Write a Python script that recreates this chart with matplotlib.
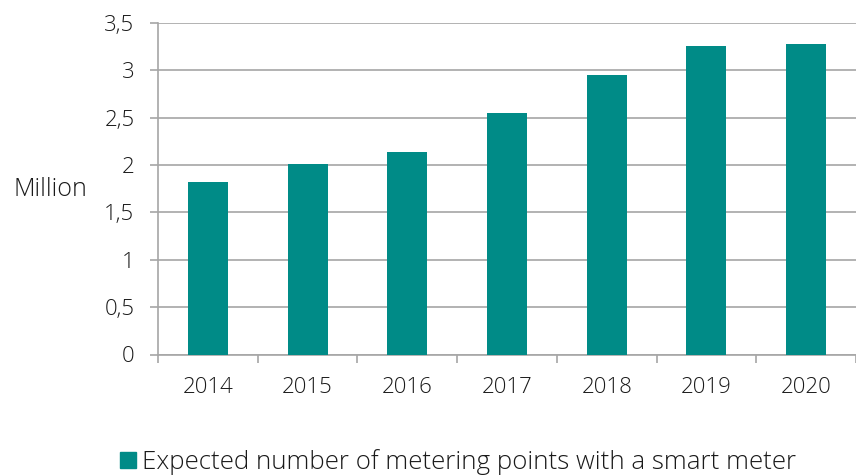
import numpy as np
import matplotlib.pyplot as plt
from matplotlib.patches import Patch
from matplotlib.ticker import FuncFormatter

years = ['2014', '2015', '2016', '2017', '2018', '2019', '2020']
values = [1.82, 2.005, 2.135, 2.545, 2.948, 3.256, 3.274]
y_ticks = [0, 0.5, 1, 1.5, 2, 2.5, 3, 3.5]

teal = '#008B87'
grid_col = '#A6A6A6'

plt.rcParams['font.family'] = ['Open Sans', 'DejaVu Sans']
plt.rcParams['font.weight'] = 'light'

fig = plt.figure(figsize=(8.56, 4.75), dpi=100)
ax = fig.add_axes([158 / 856, 1 - 354.5 / 475, 1 - 158 / 856, (354.5 - 22.7) / 475])

x = np.arange(len(years))
ax.bar(x, values, width=0.4, color=teal, zorder=3)

ax.set_xlim(-0.5, len(years) - 0.5)
ax.set_ylim(0, 3.5)
ax.set_yticks(y_ticks)
ax.yaxis.set_major_formatter(FuncFormatter(lambda v, p: ('%g' % v).replace('.', ',')))
ax.grid(axis='y', color=grid_col, linewidth=1.2, zorder=0)

ax.set_xticks(x)
ax.set_xticklabels(years)
ax.set_xticks(np.arange(-0.5, len(years)), minor=True)
ax.tick_params(axis='x', which='major', length=0, pad=16, labelsize=16)
ax.tick_params(axis='x', which='minor', length=6, width=1.2, color=grid_col)
ax.tick_params(axis='y', length=6, width=1.2, color=grid_col, pad=11, labelsize=16)
for lbl in ax.get_xticklabels() + ax.get_yticklabels():
    lbl.set_color('#1a1a1a')

for s in ['top', 'right']:
    ax.spines[s].set_visible(False)
ax.spines['left'].set_color(grid_col)
ax.spines['bottom'].set_color(grid_col)
ax.spines['left'].set_linewidth(1.2)
ax.spines['bottom'].set_linewidth(1.2)

fig.text(14 / 856, 1 - 190 / 475, 'Million', fontsize=18, va='center', ha='left', color='#1a1a1a')

fig.legend(handles=[Patch(color=teal, label='Expected number of metering points with a smart meter')],
           loc='center left', bbox_to_anchor=(102 / 856, 1 - 462 / 475), frameon=False, fontsize=18.6,
           handlelength=0.6, handleheight=0.6, handletextpad=0.25, labelcolor='#1a1a1a',
           borderpad=0.2)

fig.savefig('out.png', dpi=100)
